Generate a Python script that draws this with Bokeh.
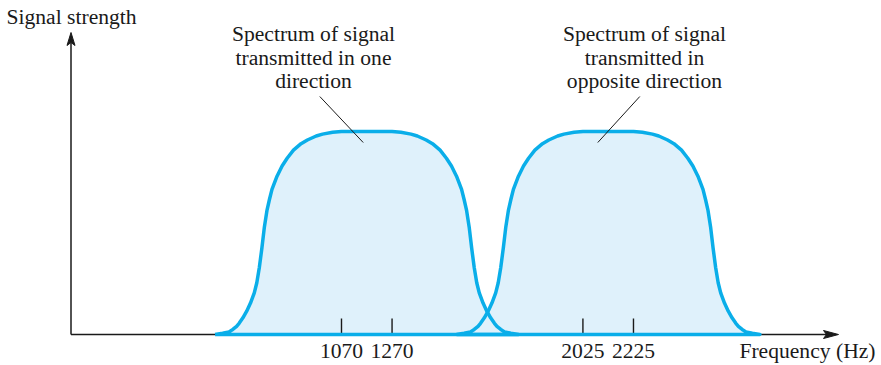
from bokeh.plotting import figure
from bokeh.models import ColumnDataSource, Range1d
from bokeh.core.properties import value
from bokeh.embed import file_html
from bokeh.resources import INLINE

# ---------------- data ----------------
tick_freqs = [1070, 1270, 2025, 2225]
tick_labels = ["1070", "1270", "2025", "2225"]
band_centers = [1170, 2125]          # Hz, centre of each spectrum
# half-profile of a spectrum: offset from centre (Hz) -> relative signal strength
profile_offset_hz = [0, 100, 135, 175, 200, 235, 260, 290, 315, 335, 355, 375, 385, 395,
                     405, 415, 425, 435, 445, 460, 475, 490, 505, 515, 530, 545, 570, 600]
profile_level = [1.0, 1.0, 0.996, 0.987, 0.978, 0.958, 0.940, 0.908, 0.868, 0.830, 0.780,
                 0.715, 0.665, 0.610, 0.530, 0.425, 0.330, 0.255, 0.205, 0.155, 0.115,
                 0.082, 0.055, 0.040, 0.025, 0.013, 0.006, 0.0]
band_texts = [["Spectrum of signal", "transmitted in one", "direction"],
              ["Spectrum of signal", "transmitted in", "opposite direction"]]
y_title = "Signal strength"
x_title = "Frequency (Hz)"

# ---------------- layout ----------------
W, H = 881, 365
OFF = 0.0           # page offset of the canvas
PX_PER_HZ = 0.2528
PX_PER_LEVEL = 203.0
ORIGIN_X = 70.5     # window px of f = 0
BASE_Y = 334.0      # window px of level 0
TXT_SHIFT = -6.0    # correction of text baseline placement (px)
x_start = -(ORIGIN_X - OFF) / PX_PER_HZ
x_end = x_start + W / PX_PER_HZ
y_end = (BASE_Y - OFF) / PX_PER_LEVEL
y_start = y_end - H / PX_PER_LEVEL


def hz(X):
    return (X - ORIGIN_X) / PX_PER_HZ


def lv(Y):
    return (BASE_Y - Y) / PX_PER_LEVEL


def tv(Y):
    return lv(Y + TXT_SHIFT)


FONT = value("Liberation Serif")
FSIZE = value("21.6px")
BLUE = "#0aaee9"
FILL = "#dff1fb"
INK = "#1a1a1a"

p = figure(width=W, height=H, output_backend="svg", toolbar_location=None,
           x_axis_type=None, y_axis_type=None, min_border=0,
           x_range=Range1d(x_start, x_end), y_range=Range1d(y_start, y_end))
p.grid.visible = False
p.outline_line_color = None
p.background_fill_color = "white"
p.border_fill_color = "white"

# axes lines
p.line([0, hz(828)], [0, 0], line_color=INK, line_width=1.5)
p.line([0, 0], [0, lv(42)], line_color=INK, line_width=1.5)
# arrowheads
p.patch([hz(838), hz(823), hz(826), hz(823)], [0, lv(338), 0, lv(330)],
        fill_color=INK, line_color=INK, line_width=1)
p.patch([0, hz(66.5), 0, hz(74.5)], [lv(32), lv(45), lv(42), lv(45)],
        fill_color=INK, line_color=INK, line_width=1)

# spectra outlines
outlines = []
for c in band_centers:
    xs = [c - o for o in reversed(profile_offset_hz)] + [c + o for o in profile_offset_hz[1:]]
    ys = list(reversed(profile_level)) + profile_level[1:]
    xs.append(xs[0])
    ys.append(ys[0])
    outlines.append((xs, ys))

for xs, ys in outlines:
    p.patch(xs, ys, fill_color=FILL, line_color=None)

# tick marks
tick_src = ColumnDataSource(dict(x=tick_freqs, y0=[0] * len(tick_freqs),
                                 y1=[lv(318)] * len(tick_freqs), label=tick_labels))
p.segment(x0="x", y0="y0", x1="x", y1="y1", source=tick_src, line_color=INK, line_width=1.4)

for xs, ys in outlines:
    p.line(xs, ys, line_color=BLUE, line_width=3.5, line_join="round")

# tick labels
p.text(x="x", y=tv(356), text="label", source=tick_src, text_font=FONT,
       text_font_size=FSIZE, text_align="center", text_baseline="alphabetic",
       text_color=INK)

# axis titles
p.text(x=[hz(6)], y=[tv(22)], text=[y_title], text_font=FONT, text_font_size=FSIZE,
       text_align="left", text_baseline="alphabetic", text_color=INK)
p.text(x=[hz(875)], y=[tv(356)], text=[x_title], text_font=FONT, text_font_size=FSIZE,
       text_align="right", text_baseline="alphabetic", text_color=INK)

# band annotations
block_cx = [313, 644]
line_baselines = [39, 63, 86]
leaders = [((319.3, 96), (362.7, 142)), ((639.3, 96), (597.3, 142))]
for lines, cx, (a, b) in zip(band_texts, block_cx, leaders):
    p.text(x=[hz(cx)] * len(lines), y=[tv(yb) for yb in line_baselines], text=lines,
           text_font=FONT, text_font_size=FSIZE, text_align="center",
           text_baseline="alphabetic", text_color=INK)
    p.line([hz(a[0]), hz(b[0])], [lv(a[1]), lv(b[1])], line_color=INK, line_width=1)

open("out.html", "w").write(file_html(p, INLINE))
